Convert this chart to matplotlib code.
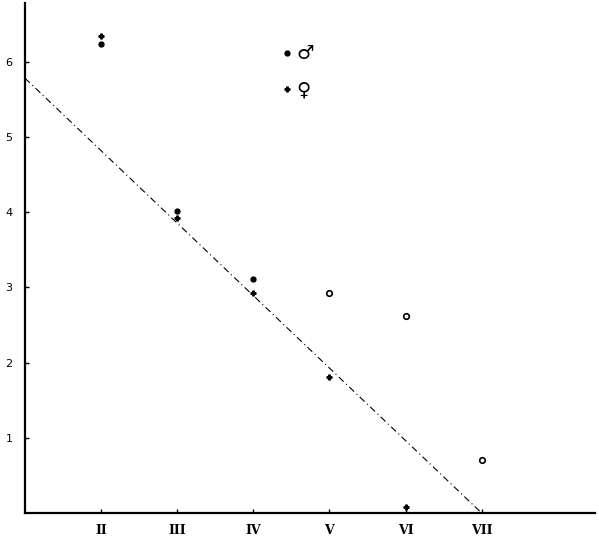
import matplotlib.pyplot as plt
from matplotlib.lines import Line2D

# class number on x (1 = I ... 7 = VII), value on y
classes = [2, 3, 4, 5, 6, 7]
class_labels = ['II', 'III', 'IV', 'V', 'VI', 'VII']

male_x = [2, 3, 4]
male_y = [6.23, 4.02, 3.11]

female_x = [2, 3, 4, 5, 6]
female_y = [6.34, 3.92, 2.92, 1.81, 0.08]

open_x = [5, 6, 7]
open_y = [2.92, 2.62, 0.70]

# regression line end points
line_x = [1, 7]
line_y = [5.78, 0.0]

y_ticks = [1, 2, 3, 4, 5, 6]

fig = plt.figure(figsize=(5.99, 5.43), dpi=100)
ax = fig.add_axes([25 / 599, 30 / 543, 570 / 599, 510 / 543])

ax.plot(line_x, line_y, color='black', lw=0.8, ls=(0, (6, 3, 1, 3)))
ax.plot(male_x, male_y, 'o', color='black', ms=3.5, ls='none')
ax.plot(female_x, female_y, 'P', color='black', ms=3.5, ls='none')
ax.plot(open_x, open_y, 'o', mfc='white', mec='black', mew=1.2, ms=4, ls='none')

ax.set_xlim(1, 8.49)
ax.set_ylim(0, 6.78)

ax.set_xticks(classes)
ax.set_xticklabels(class_labels, family='DejaVu Serif', fontsize=9, fontweight='bold')
ax.set_yticks(y_ticks)
ax.set_yticklabels([str(v) for v in y_ticks], fontsize=8)

ax.tick_params(axis='both', direction='in', length=3, width=1)
ax.tick_params(axis='y', pad=9)
ax.tick_params(axis='x', pad=8)

for s in ['top', 'right']:
    ax.spines[s].set_visible(False)
for s in ['left', 'bottom']:
    ax.spines[s].set_linewidth(1.6)

handles = [Line2D([], [], marker='o', color='black', ms=3.5, ls='none'),
           Line2D([], [], marker='P', color='black', ms=3.5, ls='none')]
ax.legend(handles, ['\u2642', '\u2640'], loc='upper left', bbox_to_anchor=(0.418, 0.953),
          frameon=False, handlelength=0.6, handletextpad=0.2, labelspacing=0.9,
          prop={'size': 14, 'weight': 'bold'})

fig.savefig('out.png', dpi=100)
